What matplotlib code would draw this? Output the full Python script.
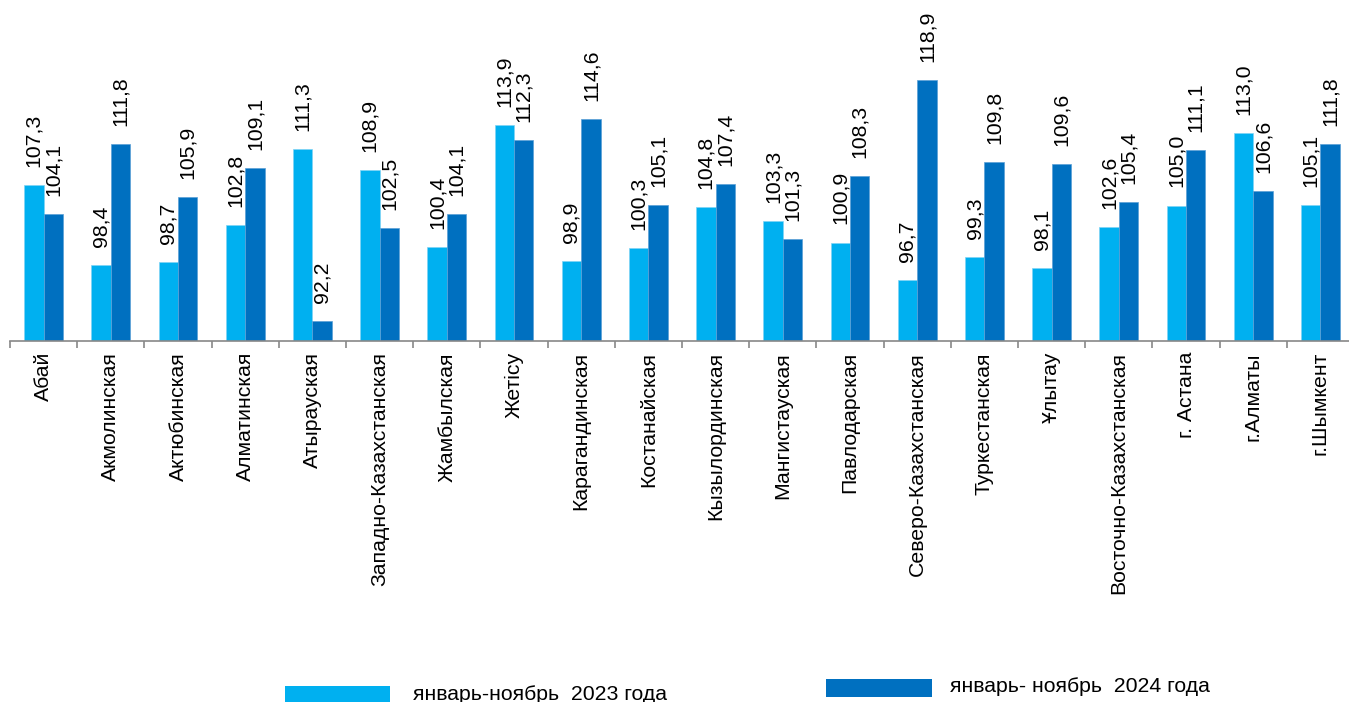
import matplotlib
matplotlib.use("Agg")
import matplotlib.pyplot as plt
import numpy as np
from matplotlib.patches import Rectangle

categories = ["Абай", "Акмолинская", "Актюбинская", "Алматинская", "Атырауская",
              "Западно-Казахстанская", "Жамбылская", "Жетісу", "Карагандинская",
              "Костанайская", "Кызылординская", "Мангистауская", "Павлодарская",
              "Северо-Казахстанская", "Туркестанская", "Ұлытау", "Восточно-Казахстанская",
              "г. Астана", "г.Алматы", "г.Шымкент"]
v2023 = [107.3, 98.4, 98.7, 102.8, 111.3, 108.9, 100.4, 113.9, 98.9, 100.3,
         104.8, 103.3, 100.9, 96.7, 99.3, 98.1, 102.6, 105.0, 113.0, 105.1]
v2024 = [104.1, 111.8, 105.9, 109.1, 92.2, 102.5, 104.1, 112.3, 114.6, 105.1,
         107.4, 101.3, 108.3, 118.9, 109.8, 109.6, 105.4, 111.1, 106.6, 111.8]
series_names = ["январь-ноябрь  2023 года", "январь- ноябрь  2024 года"]

c1 = "#00B0F0"
c2 = "#0070C0"
plt.rcParams['font.family'] = ['Liberation Sans', 'DejaVu Sans']

W, H = 1349, 702
fig = plt.figure(figsize=(W / 100, H / 100), dpi=100)
ax = fig.add_axes([10 / W, 1 - 341 / H, 1344 / W, 271 / H])

x = np.arange(len(categories))
bw = 0.29
base = 90
ax.bar(x - bw / 2, np.array(v2023) - base, bw, bottom=base, color=c1, edgecolor="#7fd4f5", linewidth=0.5)
ax.bar(x + bw / 2, np.array(v2024) - base, bw, bottom=base, color=c2, edgecolor="#5a9fd6", linewidth=0.5)
ax.set_xlim(-0.5, len(categories) - 0.5)
ax.set_ylim(90, 120)

FS = 15.3

def fmt(v):
    return f"{v:.1f}".replace(".", ",")

for i in range(len(categories)):
    ax.annotate(fmt(v2023[i]), (x[i] - bw / 2, v2023[i]), xytext=(0, 13), textcoords="offset points",
                rotation=90, ha="center", va="bottom", fontsize=FS, annotation_clip=False)
    ax.annotate(fmt(v2024[i]), (x[i] + bw / 2, v2024[i]), xytext=(0, 13), textcoords="offset points",
                rotation=90, ha="center", va="bottom", fontsize=FS, annotation_clip=False)

for s in ["top", "right", "left"]:
    ax.spines[s].set_visible(False)
ax.spines["bottom"].set_color("#888888")
ax.spines["bottom"].set_linewidth(1.2)
ax.set_yticks([])
ax.set_xticks(np.arange(len(categories) + 1) - 0.5)
ax.set_xticklabels([])
ax.tick_params(axis="x", direction="out", length=5, color="#888888", width=1.2)
for i, c in enumerate(categories):
    ax.annotate(c, (x[i], 90), xytext=(0, -8), textcoords="offset points", rotation=90,
                ha="center", va="top", fontsize=FS, annotation_clip=False)

# legend
fig.patches.append(Rectangle((285 / W, 1 - 702 / H), 105 / W, 16 / H, transform=fig.transFigure,
                             facecolor=c1, edgecolor="none"))
fig.text(413 / W, 1 - 695 / H, series_names[0], fontsize=FS, va="center", ha="left")
fig.patches.append(Rectangle((826 / W, 1 - 697 / H), 106 / W, 18 / H, transform=fig.transFigure,
                             facecolor=c2, edgecolor="none"))
fig.text(950 / W, 1 - 687 / H, series_names[1], fontsize=FS, va="center", ha="left")

fig.savefig("out.png", dpi=100)
